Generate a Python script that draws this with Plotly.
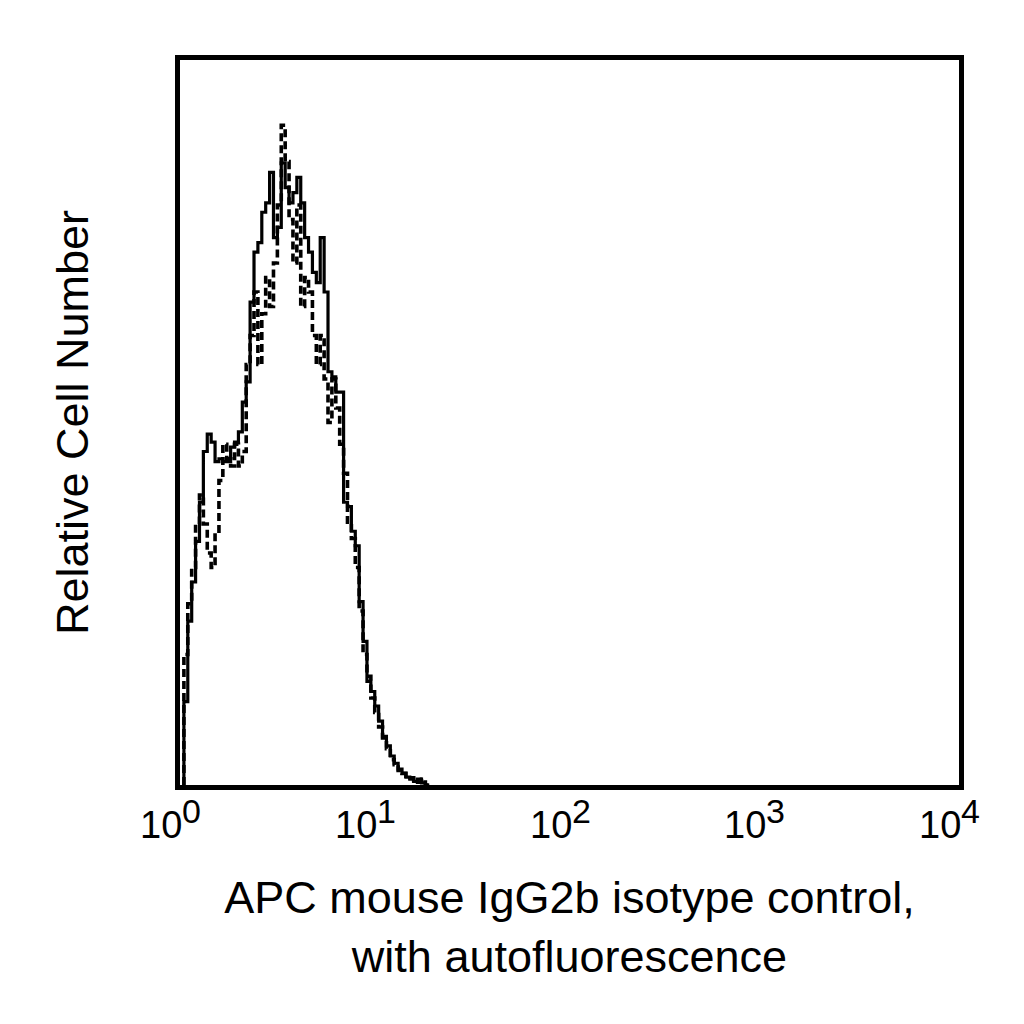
import math
import plotly.graph_objects as go

# Histogram bins (log10 fluorescence), start and width of each channel bin
bin_start_log = 0.02
bin_width_log = 0.02

# Relative cell number per bin (0-100 scale)
solid_counts = [11.5, 22.6, 28, 33.6, 39, 46, 48.4, 47.3, 44.6, 45,
                44.6, 44.6, 46.6, 47.3, 48.7, 52.8, 55.6, 66.6, 73.5, 74.8,
                79, 80.3, 84.5, 75.5, 76.9, 85.8, 82.4, 80.3, 81.7, 83.8,
                80.3, 75.5, 73.5, 70.7, 69.3, 75.5, 68, 57, 56.3, 54.2,
                54.2, 39, 38.4, 35, 33, 25.3, 19.8, 14.3, 12.9, 10.9,
                8.8, 6.7, 5.4, 4, 3, 2.2, 1.6, 1.1, 0.8, 0.5,
                0.8, 0.3, 0]

dashed_counts = [18, 25, 30, 36, 40, 36, 32, 30, 35, 42,
                 47, 45, 44, 47, 44, 46, 58, 62, 68, 58,
                 65, 70, 66, 72, 80, 91, 86, 78, 72, 80,
                 66, 70, 68, 62, 58, 62, 56, 50, 56, 52,
                 47, 43, 36, 34, 30, 24, 18, 15, 12, 10,
                 8, 6.5, 5, 3.5, 2.8, 2, 1.6, 1.2, 1.0, 0.6,
                 0.4, 0.8, 0]

tick_vals = [1, 10, 100, 1000, 10000]
tick_base = "10"
tick_exponents = ["0", "1", "2", "3", "4"]

x_title = "APC mouse IgG2b isotype control,<br>with autofluorescence"
y_title = "Relative Cell Number"


def step_xy(counts):
    xs = [10 ** bin_start_log]
    ys = [0]
    for i, c in enumerate(counts):
        xs.append(10 ** (bin_start_log + bin_width_log * i))
        ys.append(c)
    xs.append(10 ** (bin_start_log + bin_width_log * len(counts)))
    ys.append(counts[-1])
    return xs, ys


fig = go.Figure()
sx, sy = step_xy(solid_counts)
dx, dy = step_xy(dashed_counts)
fig.add_trace(go.Scatter(x=sx, y=sy, mode="lines", line_shape="hv",
                         line=dict(color="black", width=3.2), showlegend=False))
fig.add_trace(go.Scatter(x=dx, y=dy, mode="lines", line_shape="hv",
                         line=dict(color="black", width=3.6, dash="8px,4px"),
                         showlegend=False))

font_family = "Liberation Sans, Arial, sans-serif"

# tick labels: base "10" plus full-size raised exponent, placed on the x scale
# (annotations on a log axis take log10 coordinates)
for v, e in zip(tick_vals, tick_exponents):
    lx = math.log10(v)
    fig.add_annotation(x=lx, xref="x", y=0, yref="paper", text=tick_base,
                       showarrow=False, xanchor="right", yanchor="middle",
                       xshift=3, yshift=-40, font=dict(size=38), borderpad=0)
    fig.add_annotation(x=lx, xref="x", y=0, yref="paper", text=e,
                       showarrow=False, xanchor="left", yanchor="middle",
                       xshift=1, yshift=-26, font=dict(size=34), borderpad=0)

fig.update_layout(
    width=1024, height=1024,
    margin=dict(l=172, r=73, t=52, b=247),
    paper_bgcolor="white", plot_bgcolor="white",
    font=dict(family=font_family, color="black", size=45),
    xaxis=dict(type="log", range=[0, 4], tickvals=tick_vals,
               showticklabels=False,
               showgrid=False, zeroline=False, showline=True, linewidth=5,
               linecolor="black", mirror=True, ticks="",
               title=dict(text=x_title, font=dict(size=45), standoff=94)),
    yaxis=dict(range=[0, 100], showticklabels=False, showgrid=False,
               zeroline=False, showline=True, linewidth=5, linecolor="black",
               mirror=True, ticks="",
               title=dict(text=y_title, font=dict(size=45), standoff=74)),
)

fig.write_html("out.html")
